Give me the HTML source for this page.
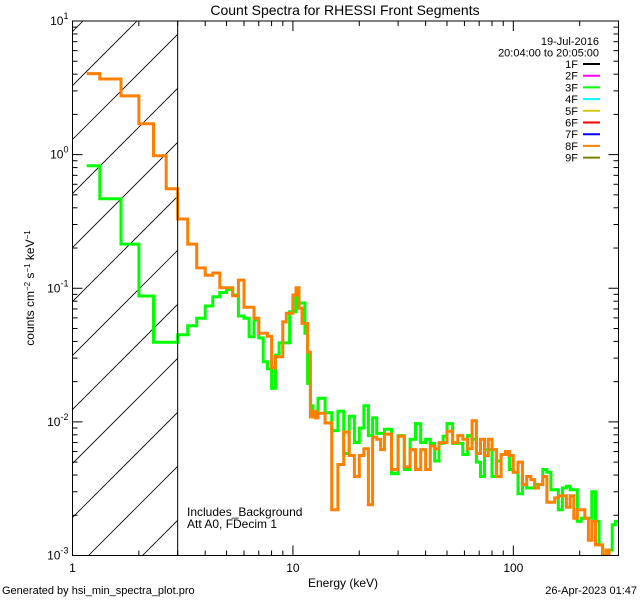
<!DOCTYPE html>
<html><head><meta charset="utf-8"><style>
html,body{margin:0;padding:0;background:#fff;}
svg{display:block;font-family:"Liberation Sans",sans-serif;}
</style></head><body>
<svg id="chart" width="640" height="600" viewBox="0 0 640 600" xmlns="http://www.w3.org/2000/svg">
<rect width="640" height="600" fill="#fff"/>
<defs><clipPath id="plotclip"><rect x="72.5" y="21" width="546" height="534.5"/></clipPath>
<clipPath id="hatchclip"><rect x="72.5" y="21" width="105" height="534.5"/></clipPath></defs>
<text x="345" y="15" font-size="14" text-anchor="middle">Count Spectra for RHESSI Front Segments</text>
<g id="hatch" clip-path="url(#hatchclip)"></g>
<g id="series" clip-path="url(#plotclip)"></g>
<g id="axes"></g>
<text x="343" y="587" font-size="12" text-anchor="middle">Energy (keV)</text>
<text transform="translate(34,288) rotate(-90)" font-size="12" text-anchor="middle">counts cm<tspan baseline-shift="super" font-size="8">−2</tspan> s<tspan baseline-shift="super" font-size="8">−1</tspan> keV<tspan baseline-shift="super" font-size="8">−1</tspan></text>
<text x="187" y="516" font-size="12">Includes_Background</text>
<text x="187" y="528" font-size="12">Att A0, FDecim 1</text>
<text x="2" y="594" font-size="11">Generated by hsi_min_spectra_plot.pro</text>
<text x="637" y="594" font-size="11" text-anchor="end">26-Apr-2023 01:47</text>
<g id="legend"></g>
</svg>
<script>
const energyEdges=[1.16,1.33,1.66,2.0,2.33,2.66,3.0,3.33,3.66,4.0,4.33,4.66,5.0,5.33,5.66,6.0,6.33,6.66,7.0,7.33,7.66,8.0,8.33,8.66,9.0,9.33,9.66,10,10.33,10.66,11,11.33,11.66,12,12.33,12.66,13,14,15,16,17,18,19,20,21,22,23,24,25,26,28,30,32,34,36,38,40,42,44,46,48,50,53,56,59,62,65,68,71,74,77,80,84,88,92,96,100,105,110,115,120,125,130,136,142,148,154,160,167,174,181,188,195,203,211,219,227,236,245,254,263,272,281,290,300];
const counts8F=[4.04,3.68,2.75,1.70,0.98,0.556,0.33,0.214,0.142,0.125,0.130,0.101,0.101,0.088,0.115,0.072,0.072,0.0596,0.046,0.046,0.0438,0.0254,0.0307,0.0307,0.056,0.065,0.065,0.089,0.101,0.0708,0.0546,0.0546,0.0333,0.0109,0.0120,0.0107,
0.0116,0.0098,0.0022,0.0048,0.0084,0.0056,0.0039,0.0056,0.0063,0.0024,0.0077,0.0074,0.0062,0.0081,0.0044,0.0078,0.0046,0.0062,0.0044,0.0062,0.0044,0.0066,0.0063,0.0070,0.0070,0.0085,0.0070,0.0079,0.0074,0.0063,0.0102,0.0058,0.0074,0.0056,0.0074,0.0062,0.0039,0.0057,0.0060,0.0056,0.0042,0.0050,0.0034,0.0039,0.0037,0.0032,0.0034,0.0039,0.0025,0.0025,0.0027,0.0028,0.0028,0.0023,0.0028,0.0019,0.0022,0.0022,0.0019,0.0013,0.0018,0.0012,0.0012,0.0010,0.0011,0.0009,0.0008,0.0008];
const counts3F=[0.826,0.468,0.214,0.0875,0.0395,0.0395,0.0449,0.0524,0.0596,0.0736,0.0863,0.093,0.098,0.089,0.062,0.0596,0.0434,0.058,0.0424,0.0282,0.025,0.0178,0.0316,0.039,0.039,0.039,0.0667,0.0667,0.0863,0.0775,0.0775,0.046,0.0194,0.0132,0.0109,0.0117,
0.015,0.0117,0.0086,0.012,0.0058,0.011,0.0070,0.009,0.0132,0.0079,0.0107,0.0082,0.0082,0.0088,0.0041,0.0079,0.0044,0.0074,0.0097,0.0070,0.0074,0.0069,0.0051,0.0069,0.0078,0.0097,0.0069,0.0069,0.0057,0.0079,0.0074,0.0050,0.0039,0.0062,0.0062,0.0039,0.0051,0.0057,0.0057,0.0044,0.0042,0.0029,0.0034,0.0032,0.0032,0.0034,0.0034,0.0044,0.0042,0.0031,0.0031,0.0022,0.0032,0.0033,0.0031,0.0031,0.0018,0.0019,0.0019,0.0019,0.0030,0.0018,0.0012,0.0010,0.0010,0.0011,0.0017,0.0018];
const xTickLabels=["1","10","100"];
const xMajor=[1,10,100];
const yDecades=[-3,-2,-1,0,1];
const legendLabels=["1F","2F","3F","4F","5F","6F","7F","8F","9F"];
const legendColors=["#000000","#ff00ff","#00ff00","#00ffff","#d8c800","#ff0000","#0000ff","#ff8000","#808000"];

const L=72.5,R=618.5,T=21,B=555.5;
const xmin=0,xmax=Math.log10(300),ymin=-3,ymax=1;
const xs=e=>L+(Math.log10(e)-xmin)/(xmax-xmin)*(R-L);
const ys=v=>B-(Math.log10(v)-ymin)/(ymax-ymin)*(B-T);
const NS="http://www.w3.org/2000/svg";
function mk(tag,parent,attrs){const el=document.createElementNS(NS,tag);for(const k in attrs)el.setAttribute(k,attrs[k]);parent.appendChild(el);return el;}

// hatch
const hg=document.getElementById('hatch');
for(let c=158-54*3;c<900;c+=54){
  const ln=mk('line',hg,{x1:c-600,y1:600,x2:c,y2:0,stroke:'#000','stroke-width':0.8});
  
  
}
const bound=mk('line',hg.parentNode,{x1:xs(3),y1:T,x2:xs(3),y2:B,stroke:'#000','stroke-width':1});



// series
function stepPath(vals){let d='';let prevY=null;
  for(let i=0;i<vals.length;i++){const x0=xs(energyEdges[i]),x1=xs(energyEdges[i+1]),y=ys(vals[i]);
    d+=(i===0?'M':'L')+x0.toFixed(1)+','+y.toFixed(1)+'L'+x1.toFixed(1)+','+y.toFixed(1);}
  return d;}
const sg=document.getElementById('series');
const p3=mk('path',sg,{d:stepPath(counts3F),fill:'none',stroke:'#00ff00','stroke-width':3,'stroke-linejoin':'miter'});


const p8=mk('path',sg,{d:stepPath(counts8F),fill:'none',stroke:'#ff8000','stroke-width':3,'stroke-linejoin':'miter'});



// axes
const ag=document.getElementById('axes');
const frame=mk('rect',ag,{x:L,y:T,width:R-L,height:B-T,fill:'none',stroke:'#000','stroke-width':1});


for(let d=0;d<3;d++){for(let m=1;m<=9;m++){const e=m*Math.pow(10,d);if(e>300)break;const x=xs(e);const len=m===1?10:5;
  const t1=mk('line',ag,{x1:x,y1:B,x2:x,y2:B-len,stroke:'#000'});
  
  
  const t2=mk('line',ag,{x1:x,y1:T,x2:x,y2:T+len,stroke:'#000'});
  
  }}
xMajor.forEach((e,i)=>{const t=mk('text',ag,{x:xs(e),y:572,'font-size':12,'text-anchor':'middle'});t.textContent=xTickLabels[i];
  
  });
yDecades.forEach(p=>{for(let m=1;m<=9;m++){const v=m*Math.pow(10,p);if(Math.log10(v)>ymax+1e-9)break;const y=ys(v);const len=m===1?10:5;
  const t1=mk('line',ag,{x1:L,y1:y,x2:L+len,y2:y,stroke:'#000'});
  
  
  const t2=mk('line',ag,{x1:R,y1:y,x2:R-len,y2:y,stroke:'#000'});
  
  }
  const t=mk('text',ag,{x:L-4,y:ys(Math.pow(10,p))+4,'font-size':12,'text-anchor':'end'});
  t.innerHTML='10<tspan dy="-6" font-size="9">'+p+'</tspan>';
  
  });

// legend
const lg=document.getElementById('legend');
const d1=mk('text',lg,{x:599,y:45,'font-size':11,'text-anchor':'end'});d1.textContent='19-Jul-2016';


const d2=mk('text',lg,{x:599,y:56.5,'font-size':11,'text-anchor':'end'});d2.textContent='20:04:00 to 20:05:00';


legendLabels.forEach((lab,i)=>{const y=64+i*11.7;
  const t=mk('text',lg,{x:578,y:y+4,'font-size':11,'text-anchor':'end'});t.textContent=lab;
  
  
  const l=mk('line',lg,{x1:583,y1:y,x2:600,y2:y,stroke:legendColors[i],'stroke-width':2});
  
  });
</script>
</body></html>
